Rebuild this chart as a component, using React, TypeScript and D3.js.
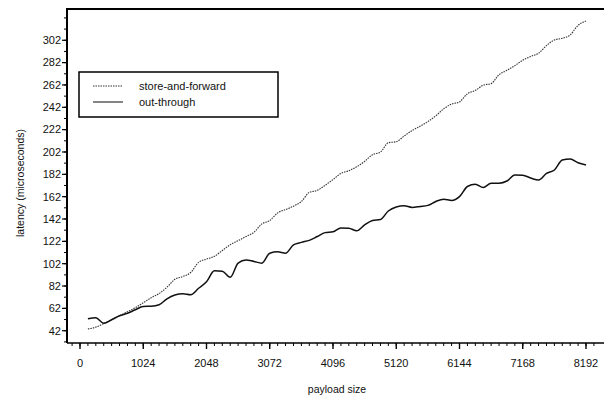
import React, { useRef, useEffect } from 'react'
import * as d3 from 'd3'

// payload sizes measured every 128 bytes
const payloadSizes = d3.range(1, 65).map(k => k * 128)

const storeAndForward = [
  43.6, 45.2, 48.4, 51.8, 55.4, 59.0, 62.6, 67.0, 71.5, 75.3, 80.9, 88.0, 90.5, 94.1, 103.2, 106.1,
  108.6, 113.8, 119.0, 122.6, 126.3, 130.1, 137.6, 140.6, 147.5, 150.4, 153.5, 157.7, 165.8, 167.6, 172.2, 177.3,
  182.8, 185.2, 188.8, 193.6, 199.6, 201.9, 210.3, 211.2, 216.3, 221.2, 225.0, 229.2, 234.4, 240.6,
  244.9, 246.8, 254.1, 257.1, 261.8, 263.2, 271.2, 275.1, 279.3, 284.2, 287.5, 290.4, 297.2, 302.3, 303.8, 306.8,
  315.4, 319.2,
]

const cutThrough = [
  52.7, 53.6, 48.7, 51.8, 55.4, 57.6, 60.8, 63.7, 63.9, 65.2, 70.6, 74.0, 75.1, 74.2, 80.0, 85.8,
  95.6, 95.2, 89.8, 102.5, 105.4, 104.0, 102.5, 111.4, 112.6, 111.4, 118.9, 121.1, 122.9, 126.3, 129.8, 130.5,
  134.0, 133.8, 131.4, 136.7, 140.7, 141.6, 149.2, 152.8, 153.9, 152.4, 153.2, 154.2, 157.7, 159.7,
  158.6, 162.0, 171.1, 173.1, 170.2, 174.0, 174.0, 176.0, 181.4, 181.2, 178.7, 176.9, 182.8, 185.9, 194.8, 195.7,
  192.4, 190.3,
]

const xTicks = [0, 1024, 2048, 3072, 4096, 5120, 6144, 7168, 8192]
const yTicks = [42, 62, 82, 102, 122, 142, 162, 182, 202, 222, 242, 262, 282, 302]
const legendLabels = ['store-and-forward', 'out-through']

export default function App() {
  const svgRef = useRef<SVGSVGElement>(null)

  useEffect(() => {
    if (!svgRef.current) return
    const svg = d3.select(svgRef.current)
    svg.selectAll('*').remove()

    const W = 604
    const H = 397
    const left = 67
    const top = 9
    const bottom = 343
    const font = 'Arial, "Liberation Sans", Helvetica, sans-serif'

    const x = d3.scaleLinear().domain([0, 8192]).range([80, 586])
    const y = d3.scaleLinear().domain([31, 330]).range([bottom, top])

    svg.append('rect').attr('width', W).attr('height', H).attr('fill', '#fff')

    // frame: left, top, bottom
    svg.append('path')
      .attr('d', `M${left},${bottom} L${left},${top} L${W},${top}`)
      .attr('fill', 'none').attr('stroke', '#000').attr('stroke-width', 2)
    svg.append('line')
      .attr('x1', left).attr('x2', W).attr('y1', bottom).attr('y2', bottom)
      .attr('stroke', '#000').attr('stroke-width', 1.6)

    // y ticks
    const yMinor = d3.range(32, 330, 10)
    svg.append('g').selectAll('line').data(yMinor).join('line')
      .attr('x1', left - 3).attr('x2', left)
      .attr('y1', d => y(d)).attr('y2', d => y(d))
      .attr('stroke', '#000').attr('stroke-width', 1)
    svg.append('g').selectAll('line').data(yTicks).join('line')
      .attr('x1', left - 5).attr('x2', left)
      .attr('y1', d => y(d)).attr('y2', d => y(d))
      .attr('stroke', '#000').attr('stroke-width', 1.2)
    svg.append('g').selectAll('text').data(yTicks).join('text')
      .attr('x', left - 6).attr('y', d => y(d)).attr('dy', '0.35em')
      .attr('text-anchor', 'end').attr('font-family', font).attr('font-size', 11)
      .attr('fill', '#111').text(d => d)

    // x ticks
    const xMinor = d3.range(-128, 8400, 128)
    svg.append('g').selectAll('line').data(xMinor).join('line')
      .attr('x1', d => x(d)).attr('x2', d => x(d))
      .attr('y1', bottom).attr('y2', bottom + 3)
      .attr('stroke', '#000').attr('stroke-width', 1)
    svg.append('g').selectAll('line').data(xTicks).join('line')
      .attr('x1', d => x(d)).attr('x2', d => x(d))
      .attr('y1', bottom).attr('y2', bottom + 6)
      .attr('stroke', '#000').attr('stroke-width', 1.4)
    svg.append('g').selectAll('text').data(xTicks).join('text')
      .attr('x', d => x(d)).attr('y', 367)
      .attr('text-anchor', 'middle').attr('font-family', font).attr('font-size', 11)
      .attr('fill', '#111').text(d => d)

    // axis titles
    svg.append('text')
      .attr('x', 337).attr('y', 393).attr('text-anchor', 'middle')
      .attr('font-family', font).attr('font-size', 10.5).attr('fill', '#111')
      .text('payload size')
    svg.append('text')
      .attr('transform', `translate(24,183) rotate(-90)`).attr('text-anchor', 'middle')
      .attr('font-family', font).attr('font-size', 10.5).attr('fill', '#111')
      .text('latency (microseconds)')

    const line = d3.line<number>()
      .x((_, i) => x(payloadSizes[i]))
      .y(d => y(d))
      .curve(d3.curveMonotoneX)

    svg.append('path').attr('d', line(storeAndForward))
      .attr('fill', 'none').attr('stroke', '#333').attr('stroke-width', 1.1)
      .attr('stroke-dasharray', '1.5,1')
    svg.append('path').attr('d', line(cutThrough))
      .attr('fill', 'none').attr('stroke', '#111').attr('stroke-width', 1.5)

    // legend
    const lg = svg.append('g')
    lg.append('rect').attr('x', 79).attr('y', 72).attr('width', 199).attr('height', 45)
      .attr('fill', '#fff').attr('stroke', '#000').attr('stroke-width', 1.5)
    legendLabels.forEach((label, i) => {
      const ly = 86 + i * 16
      lg.append('line').attr('x1', 93).attr('x2', 123).attr('y1', ly).attr('y2', ly)
        .attr('stroke', '#333').attr('stroke-width', i === 0 ? 1 : 1.2)
        .attr('stroke-dasharray', i === 0 ? '1.5,1' : null)
      lg.append('text').attr('x', 139).attr('y', ly).attr('dy', '0.35em')
        .attr('font-family', font).attr('font-size', 11).attr('fill', '#111')
        .text(label)
    })
  }, [])

  return (
    <svg ref={svgRef} width={604} height={397} style={{ position: 'absolute', left: 0, top: 0 }} />
  )
}
